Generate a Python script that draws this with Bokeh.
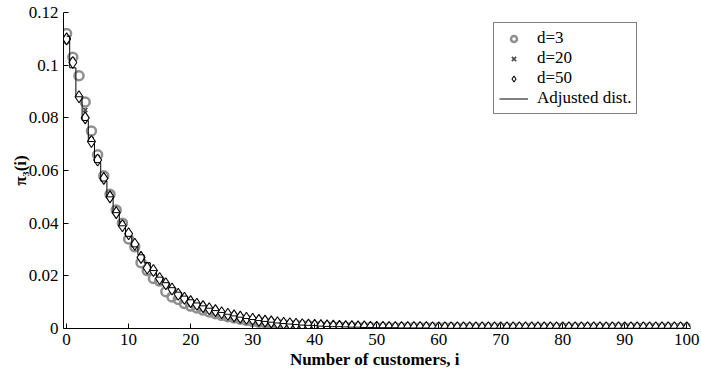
from bokeh.plotting import figure
from bokeh.models import FixedTicker, Legend, LegendItem, ColumnDataSource
from bokeh.embed import file_html
from bokeh.resources import INLINE

# Number of customers in the queue
customers = list(range(101))

# Stationary probabilities pi_3(i) for each d
pi_d3 = [
    0.112, 0.103, 0.096, 0.086, 0.075, 0.066, 0.058, 0.051, 0.045, 0.040,
    0.034, 0.031, 0.025, 0.022, 0.019, 0.018, 0.014, 0.012, 0.011, 0.0095,
    0.0085, 0.0078, 0.0070, 0.0063, 0.0056, 0.0050, 0.0045, 0.0040, 0.0035, 0.0031,
    0.0027, 0.0024, 0.0021, 0.0019, 0.0017, 0.0015, 0.0013, 0.0012, 0.0011, 0.0010,
    0.0009, 0.0008, 0.0007, 0.0006, 0.0006, 0.0005, 0.0005, 0.0004, 0.0004, 0.0004,
    0.0003, 0.0003, 0.0003, 0.0003, 0.0003, 0.0003, 0.0003, 0.0003, 0.0003, 0.0003,
    0.0003, 0.0003, 0.0003, 0.0002, 0.0002, 0.0002, 0.0002, 0.0002, 0.0002, 0.0002,
    0.0002, 0.0002, 0.0002, 0.0002, 0.0002, 0.0002, 0.0002, 0.0002, 0.0002, 0.0002,
    0.0002, 0.0002, 0.0002, 0.0002, 0.0002, 0.0002, 0.0002, 0.0002, 0.0002, 0.0002,
    0.0002, 0.0002, 0.0002, 0.0002, 0.0002, 0.0002, 0.0002, 0.0002, 0.0002, 0.0002,
    0.0002,
]

pi_d20 = [
    0.109, 0.102, 0.088, 0.083, 0.072, 0.065, 0.057, 0.051, 0.044, 0.040,
    0.036, 0.032, 0.027, 0.024, 0.022, 0.019, 0.017, 0.015, 0.013, 0.011,
    0.0100, 0.0090, 0.0082, 0.0074, 0.0066, 0.0059, 0.0053, 0.0047, 0.0042, 0.0038,
    0.0034, 0.0030, 0.0027, 0.0024, 0.0021, 0.0019, 0.0017, 0.0015, 0.0013, 0.0012,
    0.0011, 0.0010, 0.0009, 0.0008, 0.0007, 0.0006, 0.0006, 0.0005, 0.0005, 0.0004,
    0.0004, 0.0004, 0.0004, 0.0004, 0.0004, 0.0003, 0.0003, 0.0003, 0.0003, 0.0003,
    0.0003, 0.0003, 0.0003, 0.0003, 0.0003, 0.0003, 0.0003, 0.0003, 0.0003, 0.0003,
    0.0003, 0.0003, 0.0003, 0.0003, 0.0003, 0.0003, 0.0003, 0.0003, 0.0003, 0.0003,
    0.0003, 0.0003, 0.0003, 0.0003, 0.0003, 0.0003, 0.0003, 0.0003, 0.0003, 0.0003,
    0.0003, 0.0003, 0.0003, 0.0003, 0.0003, 0.0003, 0.0003, 0.0003, 0.0003, 0.0003,
    0.0003,
]

pi_d50 = [
    0.110, 0.101, 0.088, 0.080, 0.071, 0.064, 0.057, 0.050, 0.044, 0.039,
    0.036, 0.032, 0.027, 0.023, 0.022, 0.019, 0.017, 0.015, 0.013, 0.0115,
    0.0102, 0.0092, 0.0083, 0.0075, 0.0068, 0.0060, 0.0054, 0.0048, 0.0043, 0.0039,
    0.0035, 0.0031, 0.0028, 0.0025, 0.0022, 0.0020, 0.0018, 0.0016, 0.0014, 0.0013,
    0.0012, 0.0011, 0.0010, 0.0009, 0.0008, 0.0007, 0.0007, 0.0006, 0.0006, 0.0005,
    0.0005, 0.0005, 0.0004, 0.0004, 0.0004, 0.0004, 0.0004, 0.0004, 0.0004, 0.0003,
    0.0003, 0.0003, 0.0003, 0.0003, 0.0003, 0.0003, 0.0003, 0.0003, 0.0003, 0.0003,
    0.0003, 0.0003, 0.0003, 0.0003, 0.0003, 0.0003, 0.0003, 0.0003, 0.0003, 0.0003,
    0.0003, 0.0003, 0.0003, 0.0003, 0.0003, 0.0003, 0.0003, 0.0003, 0.0003, 0.0003,
    0.0003, 0.0003, 0.0003, 0.0003, 0.0003, 0.0003, 0.0003, 0.0003, 0.0003, 0.0003,
    0.0003,
]

pi_adjusted = [
    0.111, 0.099, 0.088, 0.079, 0.071, 0.063, 0.056, 0.050, 0.044, 0.039,
    0.035, 0.031, 0.028, 0.025, 0.022, 0.0195, 0.0174, 0.0155, 0.0138, 0.0123,
    0.0109, 0.0097, 0.0086, 0.0077, 0.0068, 0.0061, 0.0054, 0.0048, 0.0043, 0.0038,
    0.0034, 0.0030, 0.0027, 0.0024, 0.0021, 0.0019, 0.0017, 0.0015, 0.0013, 0.0012,
    0.0011, 0.0009, 0.0008, 0.0007, 0.0007, 0.0006, 0.0005, 0.0005, 0.0004, 0.0004,
    0.0003, 0.0003, 0.0003, 0.0003, 0.0002, 0.0002, 0.0002, 0.0002, 0.0002, 0.0001,
    0.0001, 0.0001, 0.0001, 0.0001, 0.0001, 0.0001, 0.0001, 0.0001, 0.0001, 0.0001,
    0.0001, 0.0001, 0.0001, 0.0001, 0.0001, 0.0001, 0.0001, 0.0001, 0.0001, 0.0001,
    0.0001, 0.0001, 0.0001, 0.0001, 0.0001, 0.0001, 0.0001, 0.0001, 0.0001, 0.0001,
    0.0001, 0.0001, 0.0001, 0.0001, 0.0001, 0.0001, 0.0001, 0.0001, 0.0001, 0.0001,
    0.0001,
]

x_ticks = [0, 10, 20, 30, 40, 50, 60, 70, 80, 90, 100]
y_ticks = [0, 0.02, 0.04, 0.06, 0.08, 0.1, 0.12]
y_tick_labels = ["0", "0.02", "0.04", "0.06", "0.08", "0.1", "0.12"]

series_names = ["d=3", "d=20", "d=50", "Adjusted dist."]

src = ColumnDataSource(dict(i=customers, d3=pi_d3, d20=pi_d20,
                            d50=pi_d50, adj=pi_adjusted))

SERIF = "Liberation Serif"

p = figure(width=701, height=376, output_backend="svg", toolbar_location=None,
           x_range=(-0.5, 100.6), y_range=(0, 0.12),
           min_border_left=63, min_border_right=11,
           min_border_top=12, min_border_bottom=48)
p.outline_line_color = None
p.xgrid.visible = False
p.ygrid.visible = False
p.background_fill_color = "white"
p.border_fill_color = "white"

r_d3 = p.scatter("i", "d3", source=src, marker="circle", size=9,
                 line_color="#8f8f8f", line_width=2.5, fill_color=None)
r_d20 = p.scatter("i", "d20", source=src, marker="x", size=6,
                  line_color="#4d4d4d", line_width=1.7)
r_d50 = p.scatter("i", "d50", source=src, marker="diamond", size=12,
                  line_color="black", line_width=1.1, fill_color="white")
r_adj = p.step("i", "adj", source=src, mode="center",
               line_color="black", line_width=1)

for ax in (p.xaxis[0], p.yaxis[0]):
    ax.axis_line_color = "black"
    ax.axis_line_width = 1
    ax.major_tick_in = 5
    ax.major_tick_out = 0
    ax.minor_tick_line_color = None
    ax.major_tick_line_color = "black"
    ax.major_label_text_font = SERIF
    ax.major_label_text_font_size = "17px"
    ax.major_label_text_color = "black"
    ax.axis_label_text_font = SERIF
    ax.axis_label_text_font_size = "17px"
    ax.axis_label_text_color = "black"
    ax.axis_label_text_font_style = "bold"

p.xaxis.ticker = FixedTicker(ticks=x_ticks)
p.yaxis.ticker = FixedTicker(ticks=y_ticks)
p.yaxis.major_label_overrides = {t: s for t, s in zip(y_ticks, y_tick_labels)}
p.xaxis.major_label_standoff = 5
p.yaxis.major_label_standoff = 5
p.xaxis.axis_label = "Number of customers,  i"
p.xaxis.axis_label_standoff = 2
p.yaxis.axis_label = "π₃(i)"
p.yaxis.axis_label_standoff = -4

legend = Legend(items=[
    LegendItem(label=series_names[0], renderers=[r_d3]),
    LegendItem(label=series_names[1], renderers=[r_d20]),
    LegendItem(label=series_names[2], renderers=[r_d50]),
    LegendItem(label=series_names[3], renderers=[r_adj]),
], location=(430, 214))
legend.border_line_color = "black"
legend.border_line_width = 1
legend.background_fill_color = "white"
legend.background_fill_alpha = 1
legend.label_text_font = SERIF
legend.label_text_font_size = "17px"
legend.label_text_color = "black"
legend.label_height = 15
legend.glyph_height = 15
legend.glyph_width = 29
legend.label_standoff = 9
legend.spacing = -1
legend.padding = 5
legend.margin = 0
p.add_layout(legend)

open("out.html", "w").write(file_html(p, INLINE))
